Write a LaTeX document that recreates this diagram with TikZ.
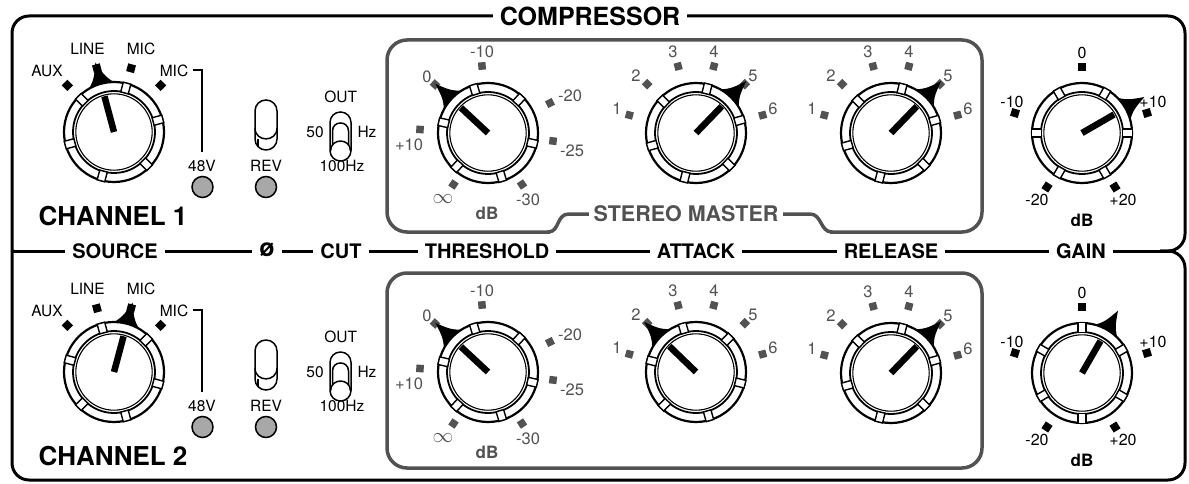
\documentclass[tikz,border=0pt]{standalone}
\usepackage{fontspec}
\setmainfont{TeX Gyre Heros}
\definecolor{cg}{RGB}{82,82,82}
\definecolor{led}{RGB}{168,168,168}
\tikzset{
 frame/.style={line width=3pt, black},
 gbox/.style={line width=3.5pt, cg},
 lbl/.style={inner sep=0pt, font=\fontsize{15.5}{16}\selectfont},
 clbl/.style={inner sep=0pt, text=cg, font=\fontsize{16.5}{17}\selectfont},
 cdb/.style={inner sep=0pt, text=cg, font=\fontsize{17}{18}\selectfont\bfseries},
 bdb/.style={inner sep=0pt, font=\fontsize{17}{18}\selectfont\bfseries},
 sect/.style={fill=white, inner xsep=7pt, inner ysep=3pt, font=\fontsize{20}{22}\selectfont\bfseries},
 mk/.style={rectangle, minimum size=7.5pt, inner sep=0pt, draw=none},
 sw/.style={line width=1.5pt},
}
\newcommand{\knob}[3]{%
\begin{scope}[shift={(#1,#2)},y=1pt]
\fill ({#3+21}:47) .. controls ({#3+6}:56) .. (#3:72) .. controls ({#3-6}:56) .. ({#3-21}:47) -- cycle;
\filldraw[fill=white,line width=2.2pt] (0,0) circle (50);
\draw[line width=1.8pt] (0,0) circle (41);
\draw[line width=1.1pt] (0,0) circle (38.2);
\foreach \k in {0,...,5}{\filldraw[fill=white,line width=1.4pt,rotate={#3+30+60*\k}] (40.5,-3.9) rectangle (50.5,3.9);}
\draw[line width=6.5pt] (0,0) -- (#3:37);
\end{scope}}
\newcommand{\thrmarks}[2]{%
\begin{scope}[shift={(#1,#2)}]
\node[mk,fill=cg,rotate=137.5] at (-53,-48.5) {};
\node[mk,fill=cg,rotate=95] at (-6,-67) {};
\node[mk,fill=cg,rotate=26] at (62,-30) {};
\node[mk,fill=cg,rotate=-7] at (65,8) {};
\node[mk,fill=cg,rotate=-56.5] at (34,51.5) {};
\node[mk,fill=cg,rotate=-124] at (-34.5,51.5) {};
\node[mk,fill=cg,rotate=177] at (-68,-3.5) {};
\node[clbl] at (-61,-56) {0};
\node[clbl] at (-6,-81) {-10};
\node[clbl] at (82,-37) {-20};
\node[clbl] at (84,18) {-25};
\node[clbl] at (40,66.5) {-30};
\node[clbl,font=\fontsize{21}{21}\selectfont] at (-45,66) {$\infty$};
\node[clbl] at (-79,12) {+10};
\node[cdb] at (-1,80) {dB};
\end{scope}}
\newcommand{\armarks}[2]{%
\begin{scope}[shift={(#1,#2)}]
\foreach \a in {165,135,105,75,45,15}{\node[mk,fill=cg,rotate=\a] at (-\a:69) {};}
\node[clbl] at (-79,-24) {1};
\node[clbl] at (-60,-57) {2};
\node[clbl] at (-23,-81) {3};
\node[clbl] at (18,-81) {4};
\node[clbl] at (57,-57) {5};
\node[clbl] at (77,-24) {6};
\end{scope}}
\newcommand{\gainmarks}[2]{%
\begin{scope}[shift={(#1,#2)}]
\node[mk,fill=black,rotate=90,minimum size=8pt] at (0,-66) {};
\node[mk,fill=black,rotate=163,minimum size=8pt] at (-67,-20) {};
\node[mk,fill=black,rotate=17,minimum size=8pt] at (65,-20) {};
\node[mk,fill=black,rotate=-123,minimum size=8pt] at (-35,54) {};
\node[mk,fill=black,rotate=-58,minimum size=8pt] at (33,54) {};
\node[lbl,font=\fontsize{16}{17}\selectfont] at (0,-80) {0};
\node[lbl,font=\fontsize{16}{17}\selectfont] at (-70,-31) {-10};
\node[lbl,font=\fontsize{16}{17}\selectfont] at (71,-31) {+10};
\node[lbl,font=\fontsize{16}{17}\selectfont] at (-45,67) {-20};
\node[lbl,font=\fontsize{16}{17}\selectfont] at (41,67) {+20};
\node[bdb] at (0,87) {dB};
\end{scope}}
\newcommand{\leftsec}[3]{%
\begin{scope}[shift={(0,#1)}]
\begin{scope}[shift={(114,132)}]
\foreach \a in {135,105,75,45}{\node[mk,fill=black,rotate=\a,minimum size=8pt] at (-\a:66) {};}
\end{scope}
\node[lbl] at (47,71) {AUX};
\node[lbl] at (87.5,49) {LINE};
\node[lbl] at (141,49) {MIC};
\node[lbl] at (174,71) {MIC};
\draw[line width=2pt] (193,70) -- (202,70) -- (202,152);
\node[lbl] at (202,166) {48V};
\node[lbl] at (266,166) {REV};
\filldraw[fill=led,line width=1.5pt] (202.5,187) circle (10.5);
\filldraw[fill=led,line width=1.5pt] (266,187) circle (10.5);
\draw[sw, rounded corners=10.9pt] (255,100) rectangle (277,150);
\draw[sw] (255,128) .. controls (255,142.5) and (277,142.5) .. (277,128);
\draw[sw] (258,139) -- (258,147);
\draw[sw, rounded corners=10.4pt] (330,112) rectangle (351,161);
\draw[sw] (332.5,145) -- (332.5,131) .. controls (332.5,120.3) and (348.5,120.3) .. (348.5,131) -- (348.5,145);
\draw[sw] (330.5,151) .. controls (330.5,137.7) and (350.5,137.7) .. (350.5,151);
\node[lbl] at (340.7,97) {OUT};
\node[lbl] at (315,132) {50};
\node[lbl] at (367,132) {Hz};
\node[lbl] at (342,166) {100Hz};
\node[inner sep=0pt, font=\fontsize{26}{28}\selectfont\bfseries] at (113,216) {CHANNEL #3};
\knob{114}{132}{#2}
\end{scope}}
\begin{document}
\begin{tikzpicture}[x=1pt,y=-1pt]
\useasboundingbox (0,0) rectangle (1189,484);
\fill[white] (0,0) rectangle (1189,484);
% outer frame
\draw[frame, rounded corners=17pt] (1160,251) -- (1185,251) -- (1185,16) -- (12,16) -- (12,251);
\draw[frame, rounded corners=17pt] (1160,251) -- (1185,251) -- (1185,480) -- (12,480) -- (12,251);
\draw[frame] (12,251) -- (1170,251);
\fill (12,240) .. controls (12,251) .. (23,251) -- (12,251) -- cycle;
\fill (12,262) .. controls (12,251) .. (23,251) -- (12,251) -- cycle;
\node[sect, font=\fontsize{25}{26}\selectfont\bfseries] (comp) at (590,16) {COMPRESSOR};
\node[sect] (source) at (115,251) {SOURCE};
\node[sect, font=\fontsize{25}{26}\selectfont\bfseries] (phase) at (267,250) {ø};
\node[sect] (cut) at (341,251) {CUT};
\node[sect] (thr) at (487,251) {THRESHOLD};
\node[sect] (att) at (696,251) {ATTACK};
\node[sect] (rel) at (891,251) {RELEASE};
\node[sect] (gain) at (1081,251) {GAIN};
% stereo master boxes
\draw[gbox, rounded corners=20pt] (550,232) -- (387,232) -- (387,40) -- (982,40) -- (982,232) -- (830,232);
\draw[gbox, line cap=round] (548,232) .. controls (560,232) and (556,214) .. (569,214) -- (810,214) .. controls (822,214) and (820,232) .. (832,232);
\node[fill=white, text=cg, inner xsep=5pt, inner ysep=2pt, font=\fontsize{21.5}{23}\selectfont\bfseries] (sm) at (686,214) {STEREO MASTER};
\draw[gbox, rounded corners=20pt] (387,273) rectangle (982,468);
% channel 1
\leftsec{0}{105}{1}
\thrmarks{488}{133}\knob{488}{133}{137}
\armarks{696}{133}\knob{696}{133}{46}
\armarks{891}{133}\knob{891}{133}{46}
\gainmarks{1082}{133}\knob{1082}{133}{30}
% channel 2
\leftsec{240}{75}{2}
\thrmarks{488}{372}\knob{488}{372}{137}
\armarks{696}{372}\knob{696}{372}{136}
\armarks{891}{373}\knob{891}{373}{46}
\gainmarks{1082}{373}\knob{1082}{373}{60}
\end{tikzpicture}
\end{document}
